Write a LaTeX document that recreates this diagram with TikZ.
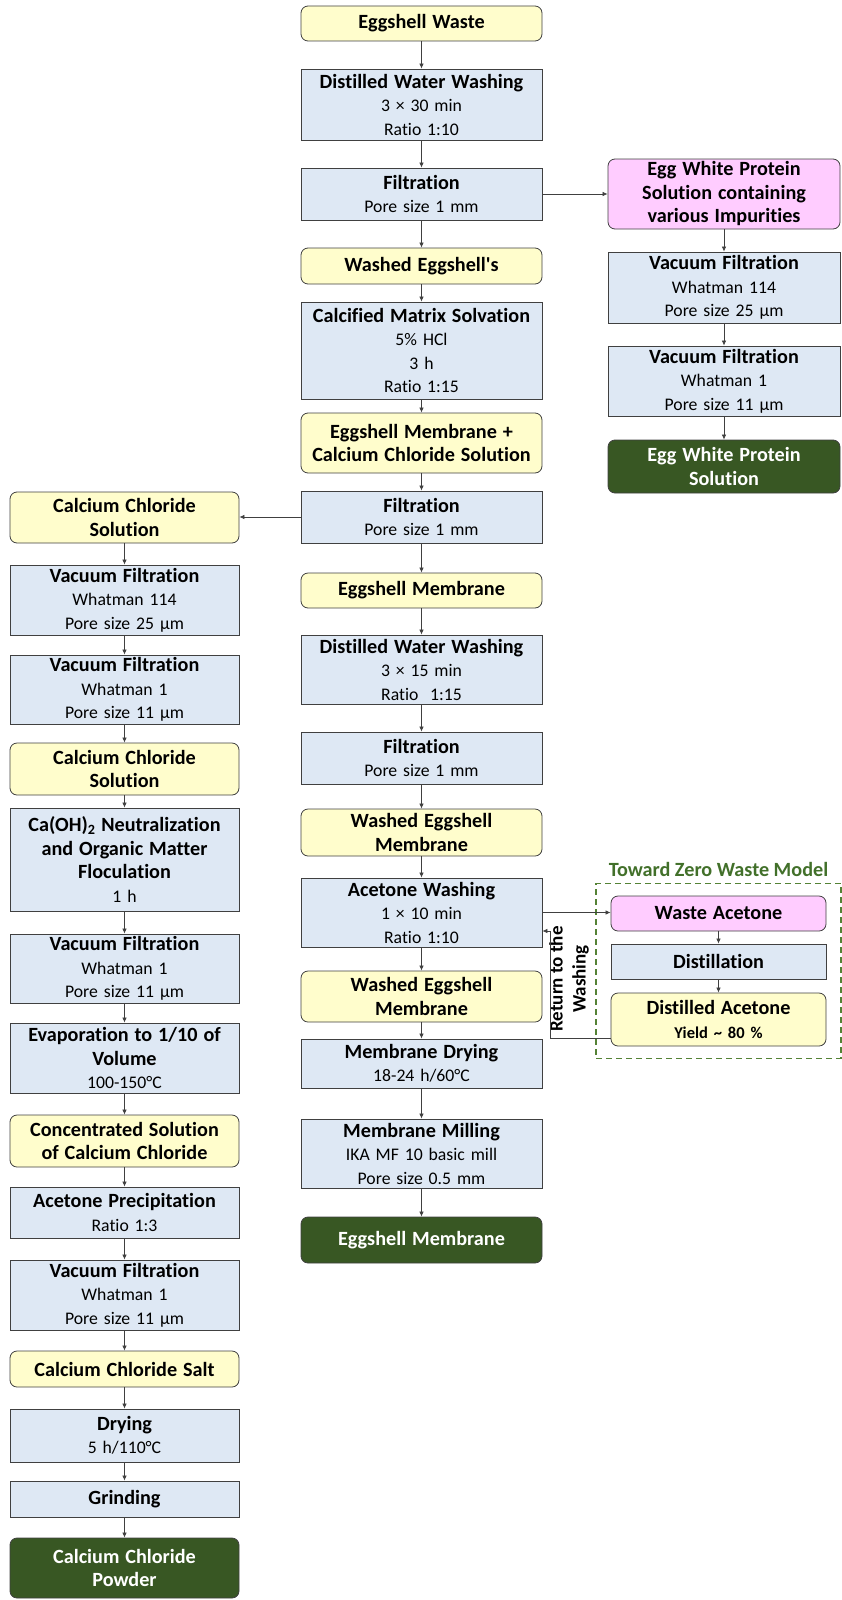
\documentclass[tikz,border=0pt]{standalone}
\usepackage{fontspec}
\setmainfont{Carlito}[Ligatures={TeX,NoCommon}]
\usetikzlibrary{positioning}
\usetikzlibrary{fit}
\usetikzlibrary{backgrounds}
\usetikzlibrary{arrows.meta}
\definecolor{stepblue}{HTML}{DEE8F4}
\definecolor{prodyellow}{HTML}{FFFDCC}
\definecolor{wastepink}{HTML}{FFCCFF}
\definecolor{endgreen}{HTML}{385723}
\definecolor{zerogreen}{HTML}{548235}
\definecolor{titlegreen}{HTML}{42702A}
\definecolor{linegray}{HTML}{404040}
\newcommand{\hd}[1]{{\fontsize{20.2}{23.5}\selectfont\bfseries #1}}
\begin{document}
\begin{tikzpicture}[x=1pt, y=-1pt,
			box/.style={draw=linegray, line width=0.8pt, align=center, inner xsep=0pt, inner ysep=2pt, font=\fontsize{17.7}{23.5}\selectfont},
			stepbox/.style={box, fill=stepblue},
			prodbox/.style={box, fill=prodyellow, rounded corners=7pt},
			wastebox/.style={box, fill=wastepink, rounded corners=7pt},
			endbox/.style={box, fill=endgreen, rounded corners=7pt, text=white},
			lcol/.style={text width=229pt},
			ccol/.style={text width=241pt},
			rcol/.style={text width=232pt},
			zcol/.style={text width=215pt},
			flow/.style={draw=linegray, line width=0.7pt, -{Latex[length=5pt, width=4.5pt]}}]
			\useasboundingbox (0,0) rectangle (842,1600);
			\node[prodbox, ccol, minimum height=35pt](ewaste) at (421.5,23.5){\hd{Eggshell Waste}};
			\node[stepbox, ccol, minimum height=71pt](dww1) at (421.5,104.5){\hd{Distilled Water Washing}\\3 × 30 min\\Ratio 1:10};
			\node[stepbox, ccol, minimum height=52pt](filt1) at (421.5,194){\hd{Filtration}\\Pore size 1 mm};
			\node[prodbox, ccol, minimum height=36pt](washed) at (421.5,266){\hd{Washed Eggshell\textquotesingle s}};
			\node[stepbox, ccol, minimum height=97pt](solv) at (421.5,350.5){\hd{Calcified Matrix Solvation}\\5\% HCl\\3 h\\Ratio 1:15};
			\node[prodbox, ccol, minimum height=60pt](memcacl) at (421.5,443){\hd{Eggshell Membrane +}\\\hd{Calcium Chloride Solution}};
			\node[stepbox, ccol, minimum height=52pt](filt2) at (421.5,517){\hd{Filtration}\\Pore size 1 mm};
			\node[prodbox, ccol, minimum height=35pt](mem1) at (421.5,590.5){\hd{Eggshell Membrane}};
			\node[stepbox, ccol, minimum height=69pt](dww2) at (421.5,669.5){\hd{Distilled Water Washing}\\3 × 15 min\\Ratio~ 1:15};
			\node[stepbox, ccol, minimum height=52pt](filt3) at (421.5,758){\hd{Filtration}\\Pore size 1 mm};
			\node[prodbox, ccol, minimum height=47pt](wmem1) at (421.5,832.5){\hd{Washed Eggshell}\\\hd{Membrane}};
			\node[stepbox, ccol, minimum height=69pt](acw) at (421.5,912.5){\hd{Acetone Washing}\\1 × 10 min\\Ratio 1:10};
			\node[prodbox, ccol, minimum height=51pt](wmem2) at (421.5,996.5){\hd{Washed Eggshell}\\\hd{Membrane}};
			\node[stepbox, ccol, minimum height=49pt](mdry) at (421.5,1063.5){\hd{Membrane Drying}\\18-24 h/60°C};
			\node[stepbox, ccol, minimum height=69pt](mmill) at (421.5,1153.5){\hd{Membrane Milling}\\IKA MF 10 basic mill\\Pore size 0.5 mm};
			\node[endbox, ccol, minimum height=46pt](memend) at (421.5,1240){\hd{Eggshell Membrane}};
			\node[prodbox, lcol, minimum height=51pt](cacl1) at (124.5,517.5){\hd{Calcium Chloride}\\\hd{Solution}};
			\node[stepbox, lcol, minimum height=70pt](lvf1) at (124.5,600){\hd{Vacuum Filtration}\\Whatman 114\\Pore size 25 μm};
			\node[stepbox, lcol, minimum height=69pt](lvf2) at (124.5,689.5){\hd{Vacuum Filtration}\\Whatman 1\\Pore size 11 μm};
			\node[prodbox, lcol, minimum height=52pt](cacl2) at (124.5,769){\hd{Calcium Chloride}\\\hd{Solution}};
			\node[stepbox, lcol, minimum height=103pt](neut) at (124.5,859.5){\hd{Ca(OH)\textsubscript{2} Neutralization}\\\hd{and Organic Matter}\\\hd{Floculation}\\1 h};
			\node[stepbox, lcol, minimum height=69pt](lvf3) at (124.5,968.5){\hd{Vacuum Filtration}\\Whatman 1\\Pore size 11 μm};
			\node[stepbox, lcol, minimum height=70pt](evap) at (124.5,1058){\hd{Evaporation to 1/10 of}\\\hd{Volume}\\100-150°C};
			\node[prodbox, lcol, minimum height=52pt](conc) at (124.5,1141){\hd{Concentrated Solution}\\\hd{of Calcium Chloride}};
			\node[stepbox, lcol, minimum height=51pt](aprec) at (124.5,1212.5){\hd{Acetone Precipitation}\\Ratio 1:3};
			\node[stepbox, lcol, minimum height=70pt](lvf4) at (124.5,1295){\hd{Vacuum Filtration}\\Whatman 1\\Pore size 11 μm};
			\node[prodbox, lcol, minimum height=36pt](salt) at (124.5,1369){\hd{Calcium Chloride Salt}};
			\node[stepbox, lcol, minimum height=53pt](dry) at (124.5,1435.5){\hd{Drying}\\5 h/110°C};
			\node[stepbox, lcol, minimum height=36pt](grind) at (124.5,1499){\hd{Grinding}};
			\node[endbox, lcol, minimum height=60pt](powder) at (124.5,1568){\hd{Calcium Chloride}\\\hd{Powder}};
			\node[wastebox, rcol, minimum height=70pt](ewimp) at (724,194){\hd{Egg White Protein}\\\hd{Solution containing}\\\hd{various Impurities}};
			\node[stepbox, rcol, minimum height=71pt](rvf1) at (724,287.5){\hd{Vacuum Filtration}\\Whatman 114\\Pore size 25 μm};
			\node[stepbox, rcol, minimum height=70pt](rvf2) at (724,381){\hd{Vacuum Filtration}\\Whatman 1\\Pore size 11 μm};
			\node[endbox, rcol, minimum height=53pt](ewsol) at (724,466.5){\hd{Egg White Protein}\\\hd{Solution}};
			\node[wastebox, zcol, minimum height=35pt](wace) at (718.5,913.5){\hd{Waste Acetone}};
			\node[stepbox, zcol, minimum height=35pt](dist) at (718.5,961.5){\hd{Distillation}};
			\node[prodbox, zcol, minimum height=53pt](dace) at (718.5,1019.5){\hd{Distilled Acetone}\\{\fontsize{16.5}{20}\selectfont\bfseries Yield \textasciitilde{} 80 \%}};
			\begin{scope}[on background layer]
				\node[draw=zerogreen, dash pattern=on 6pt off 4pt, line width=1.6pt, inner xsep=14.5pt, inner ysep=12pt, fit=(wace) (dace)](zero){};
			\end{scope}
			\node[above=6pt of zero, inner sep=0pt, text=titlegreen, font=\fontsize{20.2}{24}\selectfont\bfseries](zerotitle){Toward Zero Waste Model};
			\node[rotate=90, align=center, inner sep=0pt, font=\fontsize{19}{23}\selectfont\bfseries](rettext) at (569,979){Return to the\\Washing};
			\path[flow] (ewaste) -- (dww1);
			\path[flow] (dww1) -- (filt1);
			\path[flow] (filt1) -- (washed);
			\path[flow] (washed) -- (solv);
			\path[flow] (solv) -- (memcacl);
			\path[flow] (memcacl) -- (filt2);
			\path[flow] (filt2) -- (mem1);
			\path[flow] (mem1) -- (dww2);
			\path[flow] (dww2) -- (filt3);
			\path[flow] (filt3) -- (wmem1);
			\path[flow] (wmem1) -- (acw);
			\path[flow] (acw) -- (wmem2);
			\path[flow] (wmem2) -- (mdry);
			\path[flow] (mdry) -- (mmill);
			\path[flow] (mmill) -- (memend);
			\path[flow] (filt1.east) -- (ewimp.west);
			\path[flow] (ewimp) -- (rvf1);
			\path[flow] (rvf1) -- (rvf2);
			\path[flow] (rvf2) -- (ewsol);
			\path[flow] (filt2.west) -- (filt2.west -| cacl1.east);
			\path[flow] (cacl1) -- (lvf1);
			\path[flow] (lvf1) -- (lvf2);
			\path[flow] (lvf2) -- (cacl2);
			\path[flow] (cacl2) -- (neut);
			\path[flow] (neut) -- (lvf3);
			\path[flow] (lvf3) -- (evap);
			\path[flow] (evap) -- (conc);
			\path[flow] (conc) -- (aprec);
			\path[flow] (aprec) -- (lvf4);
			\path[flow] (lvf4) -- (salt);
			\path[flow] (salt) -- (dry);
			\path[flow] (dry) -- (grind);
			\path[flow] (grind) -- (powder);
			\path[flow] (acw.east) -- (acw.east -| wace.west);
			\path[flow] (wace) -- (dist);
			\path[flow] (dist) -- (dace);
			\coordinate (retlow) at (550,1038);
			\coordinate (rethigh) at (550,931);
			\path[flow] (dace.west |- retlow) -- (retlow) -- (rethigh) -- (rethigh -| acw.east);
	\end{tikzpicture}
\end{document}
